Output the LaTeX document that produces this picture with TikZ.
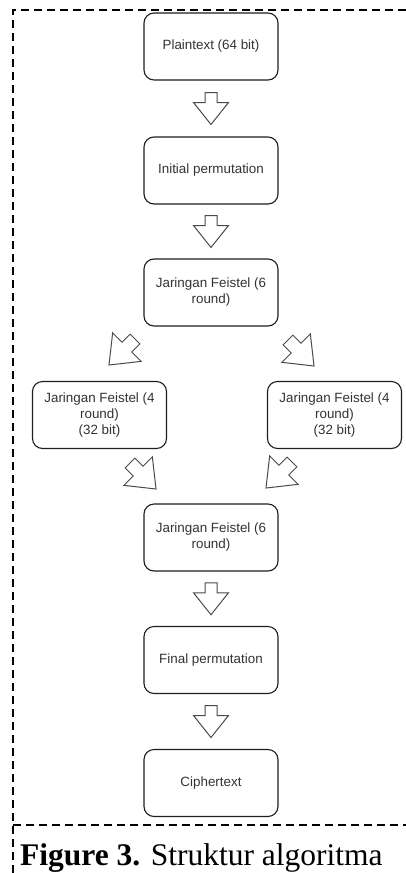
\documentclass[tikz,border=0pt]{standalone}
\usepackage{fontspec}
\usetikzlibrary{calc}
\setmainfont{Liberation Serif}
\newfontfamily\boxfont{Liberation Sans}
\definecolor{boxline}{HTML}{1E1E1E}
\definecolor{boxtext}{HTML}{333333}
\definecolor{arrline}{HTML}{4A4A4A}
\tikzset{
  stepbox/.style={draw=boxline, line width=1.1pt, rounded corners=10pt, fill=white,
    minimum width=134pt, minimum height=67pt, inner sep=2pt, align=center,
    text=boxtext, font=\boxfont\fontsize{13.4}{16}\selectfont},
  framestyle/.style={draw=black, line width=2.8pt, dash pattern=on 8pt off 5pt},
  blockarrow/.pic={
    \draw[draw=arrline, line width=1pt, fill=white, line join=miter]
      (-6,-16) -- (6,-16) -- (6,-6) -- (17.5,-6) -- (0,16) -- (-17.5,-6) -- (-6,-6) -- cycle;
  },
  captionstyle/.style={anchor=base west, inner sep=0pt, font=\fontsize{31.5}{36}\selectfont}
}
\begin{document}
\begin{tikzpicture}[x=1pt, y=-1pt]
\useasboundingbox (0,0) rectangle (406,873);
% frame
\draw[framestyle] (406,10) -- (13,10) -- (13,873);
\draw[framestyle] (13,825) -- (406,825);
% boxes
\node[stepbox] (p)  at (211,46.5)  {Plaintext (64 bit)};
\node[stepbox] (ip) at (211,170.5) {Initial permutation};
\node[stepbox] (f1) at (211,292.5) {Jaringan Feistel (6\\round)};
\node[stepbox] (l)  at (99.5,415)  {Jaringan Feistel (4\\round)\\(32 bit)};
\node[stepbox] (r)  at (334.5,415) {Jaringan Feistel (4\\round)\\(32 bit)};
\node[stepbox] (f2) at (211,537.5) {Jaringan Feistel (6\\round)};
\node[stepbox] (fp) at (211,660)   {Final permutation};
\node[stepbox] (c)  at (211,783)   {Ciphertext};
% block arrows
\coordinate (a1) at ($(p.south)!0.5!(ip.north)$);
\coordinate (a2) at ($(ip.south)!0.5!(f1.north)$);
\coordinate (a3) at (122,352);
\coordinate (a4) at (301,353);
\coordinate (a5) at (143,476);
\coordinate (a6) at (279,475);
\coordinate (a7) at ($(f2.south)!0.5!(fp.north)$);
\coordinate (a8) at ($(fp.south)!0.5!(c.north)$);
\pic at (a1) {blockarrow};
\pic at (a2) {blockarrow};
\pic[rotate=-45, scale=1.15] at (a3) {blockarrow};
\pic[rotate=45, scale=1.15] at (a4) {blockarrow};
\pic[rotate=45, scale=1.15] at (a5) {blockarrow};
\pic[rotate=-45, scale=1.15] at (a6) {blockarrow};
\pic at (a7) {blockarrow};
\pic at (a8) {blockarrow};
% caption
\node[captionstyle] (cap) at (20,865) {\textbf{Figure 3.} Struktur algoritma};
\end{tikzpicture}
\end{document}
